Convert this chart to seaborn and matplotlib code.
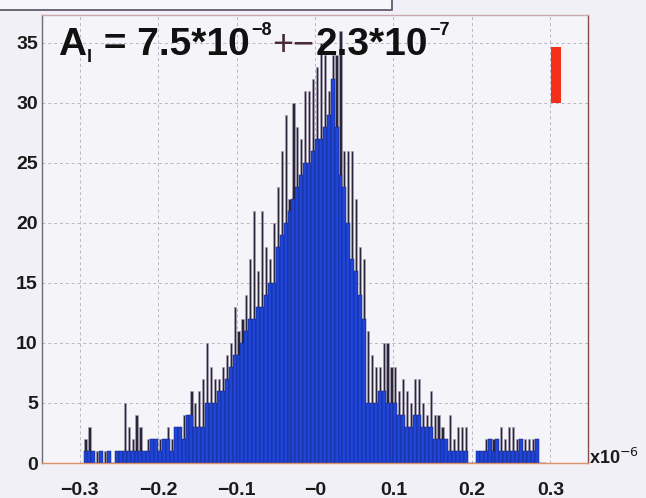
import numpy as np
import pandas as pd
import matplotlib
matplotlib.use("Agg")
import matplotlib.pyplot as plt
import seaborn as sns
from matplotlib.patches import Rectangle

# ---- data ----
bin_width = 0.005
bin_start = -0.295
# blue filled histogram (counts per bin, 118 bins from -0.295 to 0.295)
fill_counts = [
    1, 1, 1, 0, 1, 0, 1, 0, 1,
    1, 1, 1, 1, 1, 1, 1, 1, 2, 2,
    1, 2, 2, 1, 3, 3, 2, 4, 4, 3,
    3, 3, 5, 5, 5, 6, 6, 7, 8, 9,
    9, 10, 11, 12, 12, 13, 13, 14, 15, 15,
    18, 19, 20, 21, 22, 23, 24, 25, 25, 26,
    27, 27, 28, 29, 32, 28, 24, 23, 20, 17,
    16, 14, 12, 5, 5, 5, 6, 6, 5, 5,
    5, 4, 4, 3, 3, 4, 4, 3, 3, 3,
    2, 2, 2, 2, 1, 1, 1, 1, 1, 0,
    0, 1, 1, 1, 2, 1, 2, 1, 1, 1,
    1, 1, 2, 1, 1, 1, 2, 0, 0,
]
# dark outline spikes (counts per bin)
spike_counts = [
    2, 3, 1, 1, 1, 1, 1, 0, 1,
    1, 5, 3, 2, 4, 3, 1, 2, 2, 2,
    2, 2, 3, 2, 3, 3, 4, 4, 6, 5,
    6, 7, 10, 8, 7, 7, 8, 9, 10, 13,
    11, 12, 14, 17, 21, 16, 21, 18, 17, 20,
    23, 26, 29, 22, 30, 28, 27, 31, 31, 32,
    33, 35, 34, 31, 34, 34, 36, 26, 26, 26,
    22, 18, 17, 11, 9, 8, 8, 10, 10, 8,
    8, 6, 7, 6, 5, 7, 7, 5, 4, 6,
    4, 4, 3, 2, 4, 2, 3, 3, 3, 0,
    0, 1, 1, 2, 2, 2, 2, 3, 2, 3,
    3, 2, 2, 2, 2, 2, 2, 0, 0,
]
x_tick_values = [-0.3, -0.2, -0.1, 0.0, 0.1, 0.2, 0.3]
x_tick_labels = ["\u22120.3", "\u22120.2", "\u22120.1", "\u22120", "0.1", "0.2", "0.3"]
y_tick_values = [0, 5, 10, 15, 20, 25, 30, 35]
marker_x = [0.307]
marker_bottom = [30.0]
marker_height = [4.6]

n_bins = len(fill_counts)
centers = bin_start + bin_width * (np.arange(n_bins) + 0.5)
bin_end = bin_start + bin_width * n_bins
df = pd.DataFrame({"center": centers, "fill": fill_counts, "spike": spike_counts})

sns.set_theme(style="white")
plt.rcParams["font.family"] = ["Liberation Sans", "DejaVu Sans"]

fig = plt.figure(figsize=(6.46, 4.98), dpi=100)
fig.patch.set_facecolor("#f1f0f6")
ax = fig.add_axes([42 / 646, 35 / 498, 546 / 646, 448 / 498])
ax.set_facecolor("#f5f5f9")

# spikes behind
sns.histplot(data=df, x="center", weights="spike", binwidth=bin_width,
             binrange=(bin_start, bin_end), shrink=0.55,
             color="#2a2538", alpha=1.0, edgecolor="#a8a2b4", linewidth=0.5, ax=ax)
# blue filled histogram
sns.histplot(data=df, x="center", weights="fill", binwidth=bin_width,
             binrange=(bin_start, bin_end), shrink=1.0,
             color="#1f44d8", alpha=1.0, edgecolor="#18236e", linewidth=0.35, ax=ax)
# red marker
ax.bar(marker_x, marker_height, bottom=marker_bottom, width=0.012,
       color="#f4301c", edgecolor="none", zorder=5)

ax.set_xlim(-0.348, 0.348)
ax.set_ylim(0, 37.3)
ax.set_xlabel("")
ax.set_ylabel("")
ax.set_xticks(x_tick_values)
ax.set_xticklabels(x_tick_labels)
ax.set_yticks(y_tick_values)
ax.set_xticks(np.arange(-0.34, 0.35, 0.02), minor=True)
ax.set_yticks(np.arange(0, 37, 1), minor=True)
ax.grid(True, which="major", color="#b9b7c2", linestyle=(0, (3, 3)), linewidth=0.7)
ax.set_axisbelow(True)
ax.tick_params(axis="both", which="both", direction="in", length=5, color="#555060")
ax.tick_params(axis="both", which="minor", length=3)
ax.tick_params(axis="x", which="major", pad=14, labelsize=14)
ax.tick_params(axis="y", which="major", pad=3, labelsize=14)
for lab in ax.get_xticklabels() + ax.get_yticklabels():
    lab.set_fontweight("bold")
    lab.set_color("#1a1a1a")

ax.spines["left"].set_color("#6e6a78")
ax.spines["bottom"].set_color("#d9926a")
ax.spines["right"].set_color("#8a4a45")
ax.spines["top"].set_color("#c9a8b0")
for s in ax.spines.values():
    s.set_linewidth(1.0)

# ---- title text laid out piece by piece (pixel coords from bottom-left) ----
renderer = fig.canvas.get_renderer()
title_pieces = [
    ("A", 28, 0, "#111111", "bold"),
    ("I", 13, -7, "#111111", "bold"),
    (" = 7.5*10", 28, 0, "#111111", "bold"),
    ("\u22128", 13, 20, "#111111", "bold"),
    ("+\u2212", 26, 0, "#4a2a35", "normal"),
    ("2.3*10", 28, 0, "#111111", "bold"),
    ("\u22127", 13, 20, "#111111", "bold"),
]
x_cursor = 58.0
baseline = 498 - 55
for txt, size, dy, col, wt in title_pieces:
    t = fig.text(x_cursor / 646, (baseline + dy) / 498, txt, fontsize=size,
                 fontweight=wt, color=col, ha="left", va="baseline", zorder=6)
    bb = t.get_window_extent(renderer=renderer)
    x_cursor = bb.x1 + 1

fig.text(589 / 646, 1 - 458 / 498, "x10$^{\u22126}$", ha="left", va="center",
         fontsize=13, fontweight="bold", color="#1a1a1a")

# partially visible title box at the top
fig.patches.append(Rectangle((-0.01, 1 - 10 / 498), 392 / 646 + 0.01, 0.05,
                             transform=fig.transFigure, facecolor="#f7f7fa",
                             edgecolor="#555060", linewidth=1.2))

fig.savefig("out.png", dpi=100, facecolor=fig.get_facecolor())
